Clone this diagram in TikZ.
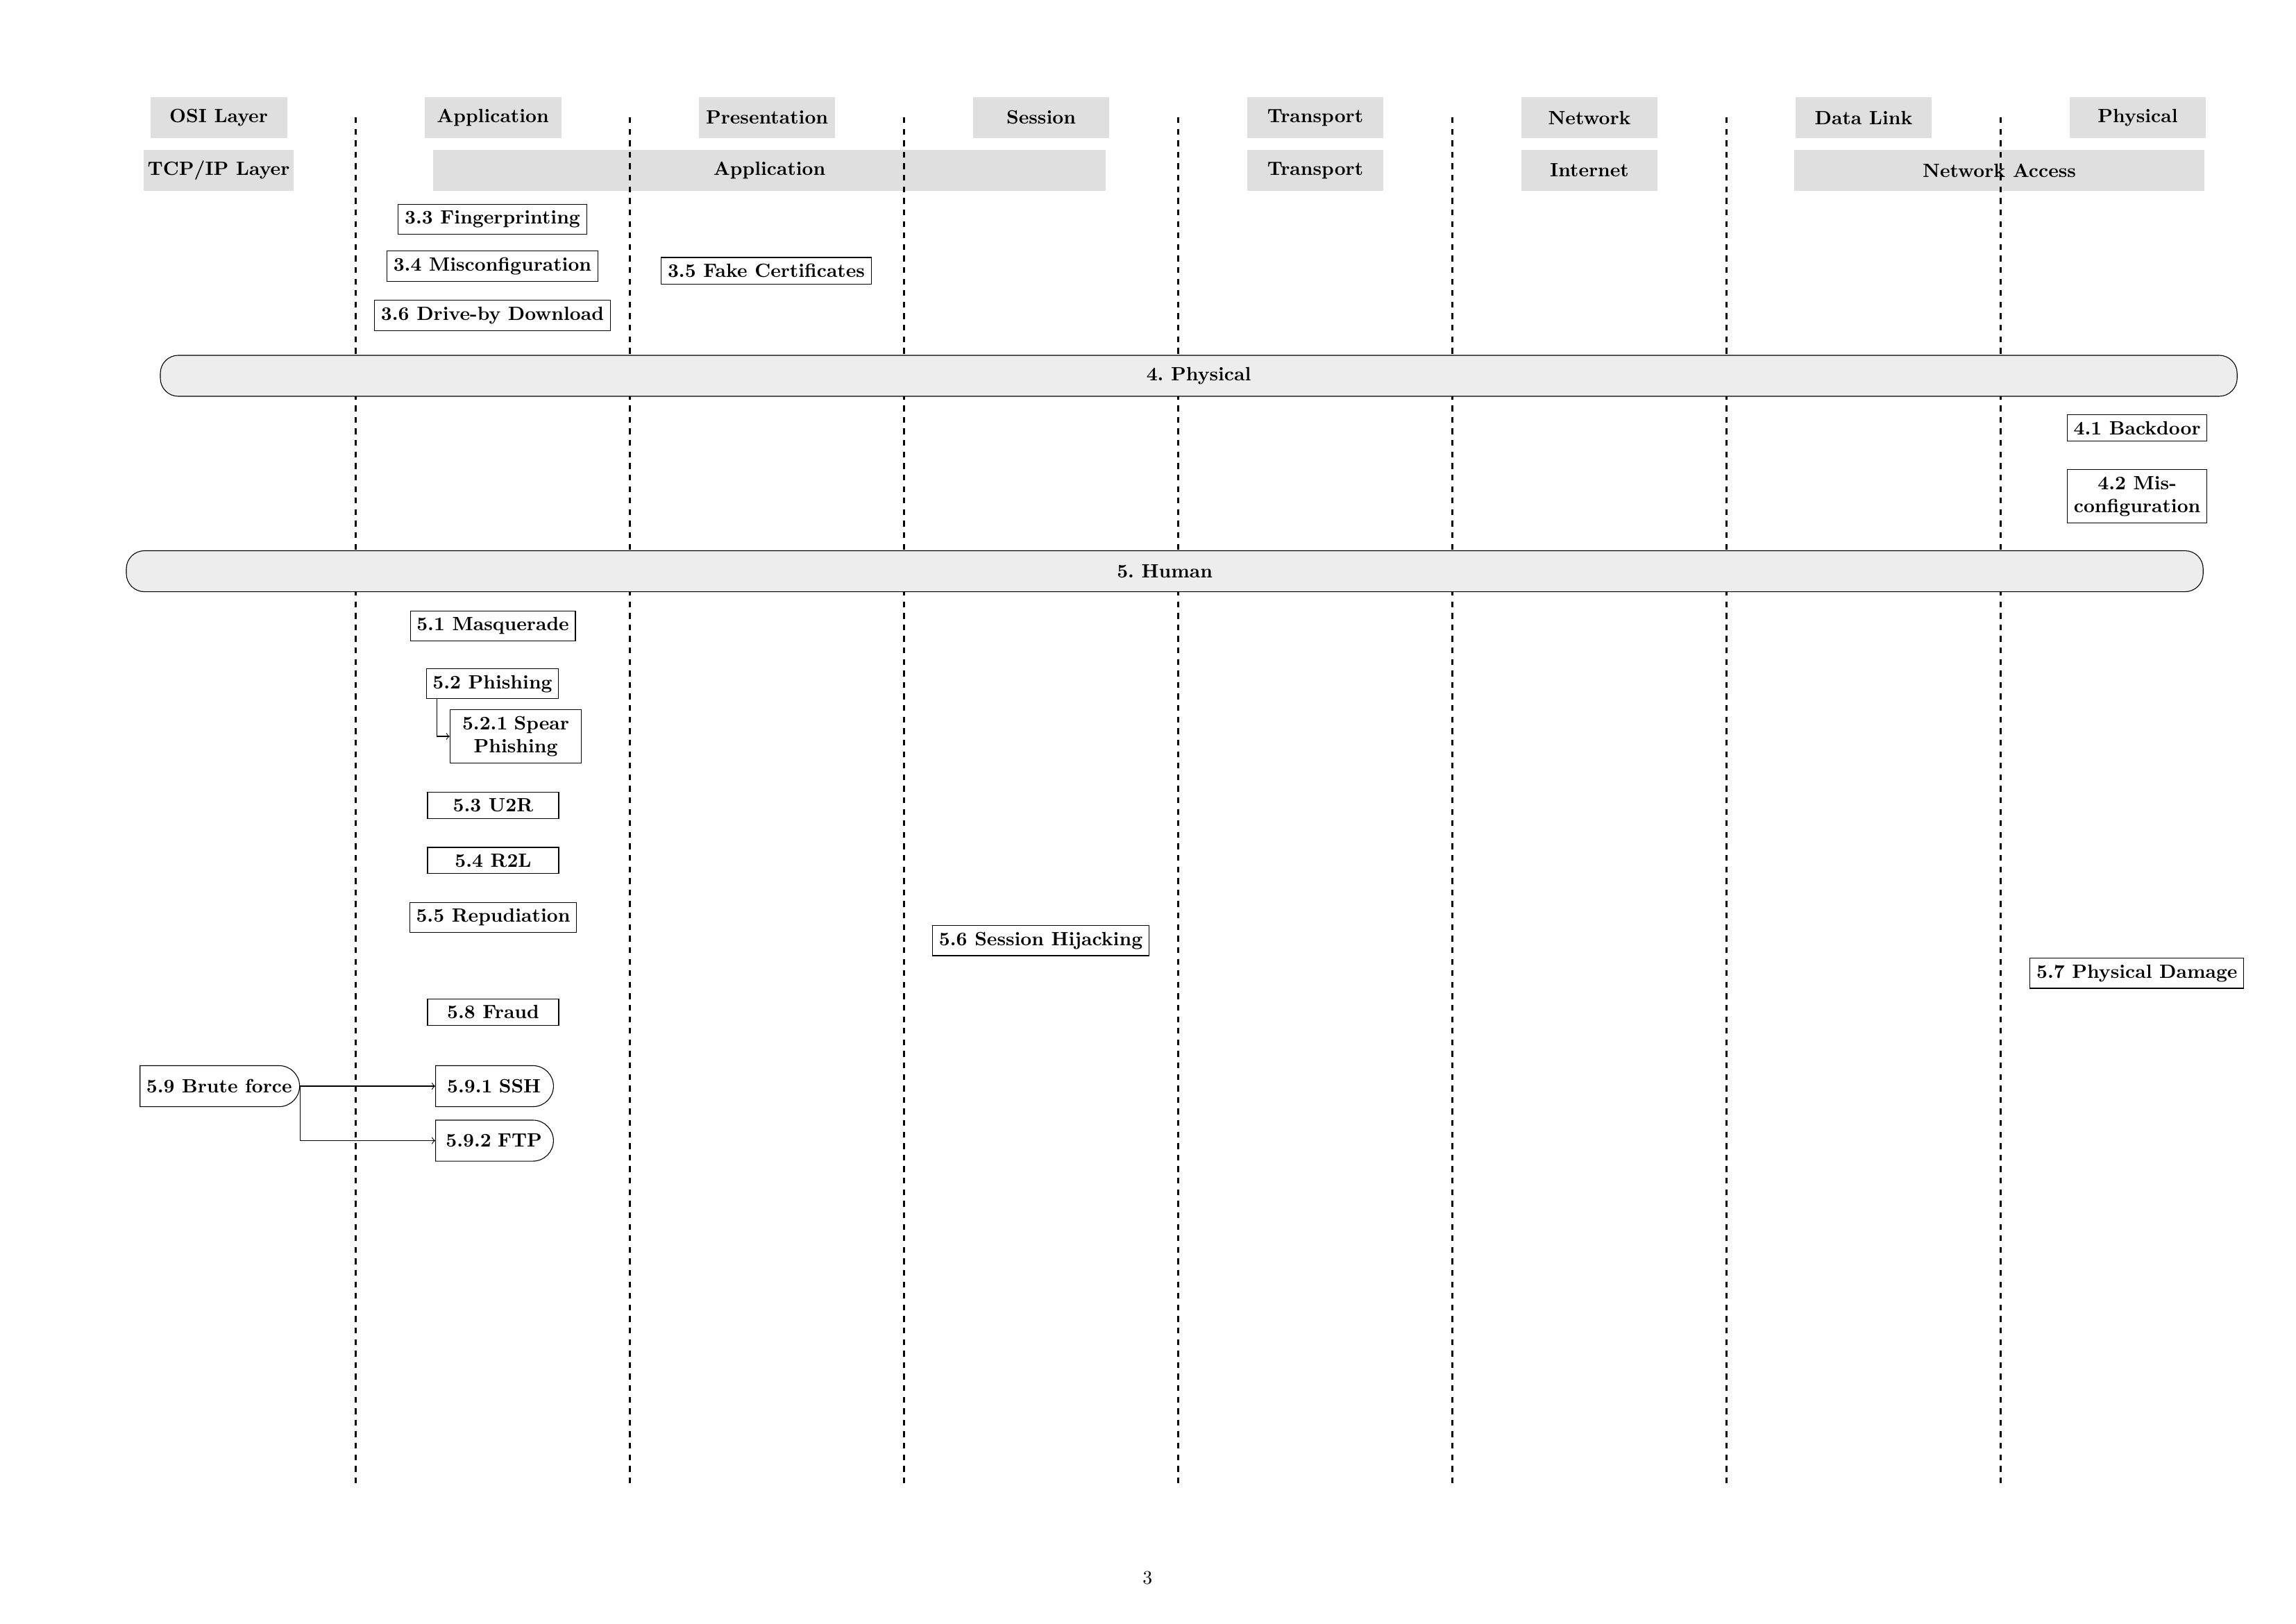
\documentclass[tikz,border=0pt]{standalone}
\usetikzlibrary{shapes.misc}

\begin{document}
\begin{tikzpicture}[
    x=1cm,y=1cm,
    layer/.style={fill=gray!25,minimum width=2.5cm,minimum height=0.75cm,inner xsep=2pt,font=\bfseries},
    attack/.style={draw,minimum width=2.4cm,font=\bfseries},
    band/.style={draw,fill=black!7,rounded corners=0.33cm,minimum width=37.99cm,minimum height=0.75cm,font=\bfseries},
    pill/.style={draw,rounded rectangle,rounded rectangle west arc=none,minimum height=0.75cm,font=\bfseries}
    ]
    \useasboundingbox (0,0) rectangle (42,-29.7);
    % layers
    \node[layer] (osi) at (4,-2.152) {OSI Layer};
    \node[layer] (appl) at (9.015,-2.152) {Application};
    \node[layer] (pres) at (14.03,-2.152) {Presentation};
    \node[layer] (sess) at (19.045,-2.152) {Session};
    \node[layer] (trans) at (24.06,-2.152) {Transport};
    \node[layer] (netw) at (29.075,-2.152) {Network};
    \node[layer] (dlink) at (34.09,-2.152) {Data Link};
    \node[layer] (phys) at (39.105,-2.152) {Physical};
    \node[layer] (tcpip) at (4,-3.117) {TCP/IP Layer};
    \node[layer,minimum width=12.3cm] (tapp) at (14.075,-3.117) {Application};
    \node[layer] (ttrans) at (24.06,-3.117) {Transport};
    \node[layer] (tinet) at (29.075,-3.117) {Internet};
    \node[layer,minimum width=7.5cm] (tnacc) at (36.573,-3.117) {Network Access};
    \foreach \i in {0,...,6}
      \draw[very thick,dashed] ({6.51+5.015*\i},-2.146) -- ({6.51+5.015*\i},-27.13);
    % 3.
    \node[attack] (finger) at (9.008,-4.012) {3.3 Fingerprinting};
    \node[attack] (misconfapp) at (9.008,-4.869) {3.4 Misconfiguration};
    \node[attack] (driveby) at (9.008,-5.771) {3.6 Drive-by Download};
    \node[attack] (fakecert) at (14.017,-4.952) {3.5 Fake Certificates};
    % 4.
    \node[band] (physical) at (21.928,-6.875) {4.~Physical};
    \node[attack] (backdoor) at (39.094,-7.828) {4.1 Backdoor};
    \node[attack,align=center] (misconf) at (39.094,-9.078) {4.2 Mis-\\configuration};
    % 5.
    \node[band] (human) at (21.306,-10.45) {5.~Human};
    \node[attack] (masq) at (9.015,-11.449) {5.1 Masquerade};
    \node[attack] (phish) at (9.008,-12.51) {5.2 Phishing};
    \node[attack,text width=2.17cm,align=center] (spear) at (9.434,-13.471) {5.2.1 Spear\\Phishing};
    \node[attack] (utor) at (9.021,-14.731) {5.3 U2R};
    \node[attack] (rtol) at (9.021,-15.742) {5.4 R2L};
    \node[attack] (repud) at (9.021,-16.781) {5.5 Repudiation};
    \node[attack] (hijack) at (19.039,-17.208) {5.6 Session Hijacking};
    \node[attack] (damage) at (39.09,-17.805) {5.7 Physical Damage};
    \node[attack] (fraud) at (9.021,-18.516) {5.8 Fraud};
    \node[pill] (brute) at (4.01,-19.87) {5.9 Brute force};
    \node[pill,text width=1.9cm,align=center] (ssh) at (9.036,-19.87) {5.9.1 SSH};
    \node[pill,text width=1.9cm,align=center] (ftp) at (9.036,-20.867) {5.9.2 FTP};
    \draw[->] ([xshift=0.2cm]phish.south west) |- (spear.west);
    \draw[->] (brute.east) -- (ssh.west);
    \draw[->] (brute.east) |- (ftp.west);
    \node (pagenum) at (20.99,-28.86) {3};
\end{tikzpicture}
\end{document}
